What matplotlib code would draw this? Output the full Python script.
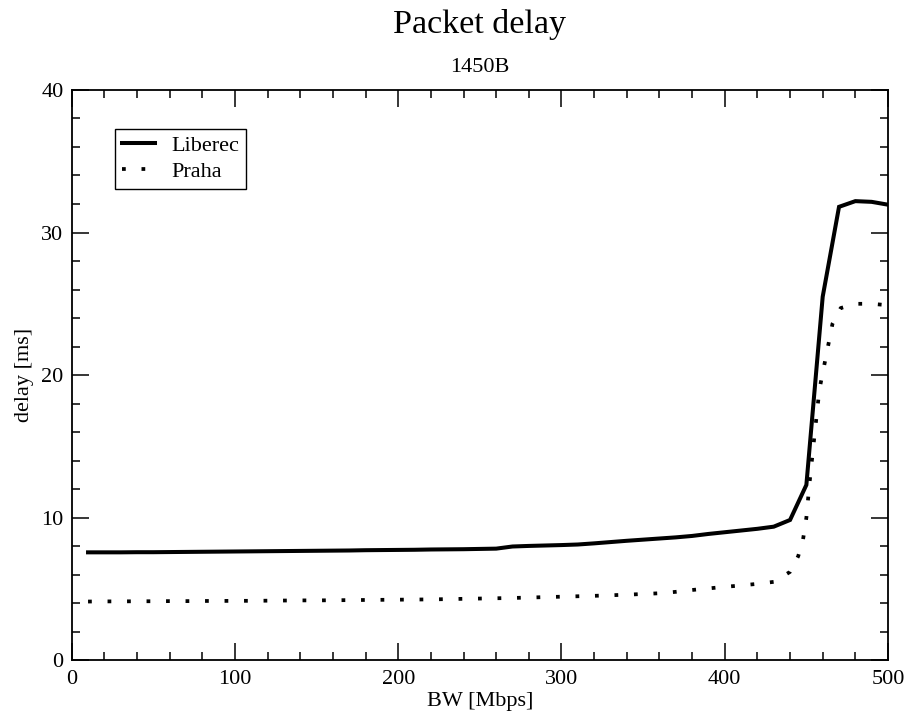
import matplotlib
matplotlib.use('Agg')
import matplotlib.pyplot as plt
from matplotlib.ticker import MultipleLocator

# dados (BW em Mbps, atraso em ms)
bw_liberec = [10, 20, 30, 40, 50, 60, 70, 80, 90, 100,
              110, 120, 130, 140, 150, 160, 170, 180, 190, 200,
              210, 220, 230, 240, 250, 260, 270, 280, 290, 300,
              310, 320, 330, 340, 350, 360, 370, 380, 390, 400,
              410, 420, 430, 440, 450, 460, 470, 480, 490, 500]
delay_liberec = [7.57, 7.57, 7.57, 7.58, 7.58, 7.59, 7.60, 7.61, 7.62, 7.63,
                 7.64, 7.65, 7.66, 7.67, 7.68, 7.69, 7.70, 7.72, 7.73, 7.74,
                 7.75, 7.77, 7.78, 7.79, 7.81, 7.83, 7.98, 8.02, 8.05, 8.08,
                 8.12, 8.20, 8.29, 8.38, 8.46, 8.54, 8.62, 8.72, 8.86, 8.98,
                 9.10, 9.22, 9.37, 9.84, 12.3, 25.5, 31.8, 32.2, 32.15, 31.95]

bw_praha = [10, 20, 30, 40, 50, 60, 70, 80, 90, 100,
            110, 120, 130, 140, 150, 160, 170, 180, 190, 200,
            210, 220, 230, 240, 250, 260, 270, 280, 290, 300,
            310, 320, 330, 340, 350, 360, 370, 380, 390, 400,
            410, 420, 430, 440, 445, 448, 450, 452, 455, 458,
            462, 466, 471, 480, 490, 500]
delay_praha = [4.12, 4.13, 4.13, 4.14, 4.14, 4.15, 4.15, 4.16, 4.16, 4.17,
               4.17, 4.18, 4.19, 4.20, 4.20, 4.21, 4.22, 4.23, 4.24, 4.25,
               4.26, 4.27, 4.29, 4.31, 4.33, 4.35, 4.37, 4.40, 4.43, 4.46,
               4.49, 4.52, 4.56, 4.60, 4.65, 4.70, 4.80, 4.93, 5.04, 5.15,
               5.25, 5.36, 5.50, 6.20, 7.30, 8.50, 10.0, 12.5, 15.8, 19.0,
               21.3, 23.6, 24.7, 25.0, 25.0, 24.9]

plt.rcParams['font.family'] = ['Liberation Serif', 'DejaVu Serif']

fig = plt.figure(figsize=(9.09, 7.17), dpi=100)
ax = fig.add_axes([0.0789, 0.0791, 0.898, 0.7955])

ax.plot(bw_liberec, delay_liberec, color='black', lw=2.9,
        solid_joinstyle='miter', label='Liberec')
ax.plot(bw_praha, delay_praha, color='black', lw=2.7,
        linestyle=(0, (1, 4.2)), dash_capstyle='butt', label='Praha')

ax.set_xlim(0, 500)
ax.set_ylim(0, 40)
ax.xaxis.set_major_locator(MultipleLocator(100))
ax.xaxis.set_minor_locator(MultipleLocator(20))
ax.yaxis.set_major_locator(MultipleLocator(10))
ax.yaxis.set_minor_locator(MultipleLocator(2))
ax.tick_params(which='both', direction='in', top=True, right=True,
               labelsize=16, width=1.1, color='black')
ax.tick_params(which='major', length=12)
ax.tick_params(which='minor', length=6)
ax.tick_params(axis='x', pad=7)
ax.tick_params(axis='y', pad=6)
for s in ax.spines.values():
    s.set_linewidth(1.3)

ax.set_xlabel('BW [Mbps]', fontsize=16, labelpad=2.5)
ax.set_ylabel('delay [ms]', fontsize=16)
ax.yaxis.set_label_coords(-0.046, 0.5)

fig.text(0.528, 0.9536, 'Packet delay', ha='center', va='baseline', fontsize=24.5)
fig.text(0.528, 0.90, '1450B', ha='center', va='baseline', fontsize=16)

leg = ax.legend(loc='upper left', bbox_to_anchor=(0.0535, 0.9316),
                borderaxespad=0, fontsize=16, fancybox=False,
                edgecolor='black', framealpha=1, handlelength=1.46,
                handletextpad=0.75, borderpad=0.3, labelspacing=0.25)
leg.get_frame().set_linewidth(1.0)

plt.savefig('out.png', dpi=100)
